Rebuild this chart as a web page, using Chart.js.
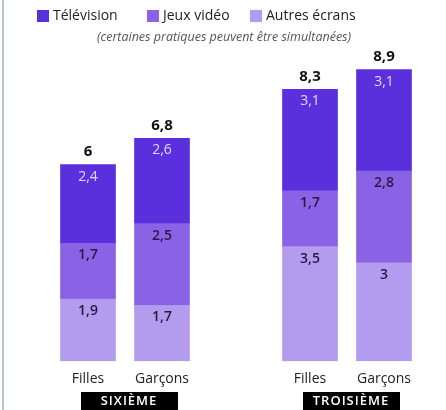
<!DOCTYPE html>
<html>
<head>
<meta charset="utf-8">
<script src="https://cdn.jsdelivr.net/npm/chart.js@4"></script>
<style>
  html, body { margin: 0; padding: 0; background: #fff; }
  #wrap { width: 446px; height: 410px; position: relative; }
</style>
</head>
<body>
<div id="wrap"><canvas id="chart" width="446" height="410"></canvas></div>
<script>
// categories (empty slot between the two school years)
const categories = ['Filles', 'Garçons', '', 'Filles', 'Garçons'];
const television = [2.4, 2.6, null, 3.1, 3.1];
const jeuxVideo = [1.7, 2.5, null, 1.7, 2.8];
const autresEcrans = [1.9, 1.7, null, 3.5, 3];
const totals = ['6', '6,8', '', '8,3', '8,9'];
const groupLabels = ['SIXIÈME', 'TROISIÈME'];
const legendLabels = ['Télévision', 'Jeux vidéo', 'Autres écrans'];
const subtitle = '(certaines pratiques peuvent être simultanées)';

const colTv = '#5a2fdc';
const colJeux = '#8a62e6';
const colAutres = '#b39cee';
const FONT = '"Open Sans", sans-serif';

function fmt(v) {
    return String(v).replace('.', ',');
}

// draws legend, subtitle, value labels, totals and group boxes
const decorations = {
    id: 'decorations',
    beforeDraw(chart) {
        const ctx = chart.ctx;
        ctx.save();
        ctx.fillStyle = '#bcc6c6';
        ctx.fillRect(2, 0, 2, 410);
        ctx.restore();
    },
    afterDraw(chart) {
        const ctx = chart.ctx;
        ctx.save();

        // legend
        const legendX = [37, 147, 250];
        const legendCols = [colTv, colJeux, colAutres];
        ctx.font = '14px ' + FONT;
        ctx.textBaseline = 'middle';
        ctx.textAlign = 'left';
        legendLabels.forEach((lab, i) => {
            ctx.fillStyle = legendCols[i];
            ctx.fillRect(legendX[i], 10, 12, 12);
            ctx.fillStyle = '#222';
            ctx.fillText(lab, legendX[i] + 16, 16);
        });

        // subtitle
        ctx.font = 'italic 12.5px ' + FONT;
        ctx.fillStyle = '#555';
        ctx.textAlign = 'center';
        ctx.fillText(subtitle, 224, 37);

        // segment values
        chart.data.datasets.forEach((ds, di) => {
            const meta = chart.getDatasetMeta(di);
            meta.data.forEach((el, i) => {
                const v = ds.data[i];
                if (v == null) return;
                if (di === 2) {
                    ctx.font = '14px ' + FONT;
                    ctx.fillStyle = '#e2d6ff';
                } else {
                    ctx.font = '600 14px ' + FONT;
                    ctx.fillStyle = '#2a1840';
                }
                ctx.fillText(fmt(v), el.x, el.y + 12);
            });
        });

        // totals
        const topMeta = chart.getDatasetMeta(2);
        ctx.font = 'bold 15px ' + FONT;
        ctx.fillStyle = '#111';
        topMeta.data.forEach((el, i) => {
            if (!totals[i]) return;
            ctx.fillText(totals[i], el.x, el.y - 13);
        });

        // group boxes
        const x = chart.scales.x;
        const groups = [[0, 1], [3, 4]];
        groups.forEach((g, i) => {
            const cx = (x.getPixelForValue(g[0]) + x.getPixelForValue(g[1])) / 2 + 4;
            ctx.fillStyle = '#000';
            ctx.fillRect(cx - 48, 392, 97, 18);
            ctx.fillStyle = '#fff';
            ctx.font = '600 13px ' + FONT;
            ctx.letterSpacing = '1px';
            ctx.fillText(groupLabels[i], cx, 401);
            ctx.letterSpacing = '0px';
        });

        ctx.restore();
    }
};

new Chart(document.getElementById('chart'), {
    type: 'bar',
    data: {
        labels: categories,
        datasets: [
            { label: legendLabels[2], data: autresEcrans, backgroundColor: colAutres, barThickness: 55 },
            { label: legendLabels[1], data: jeuxVideo, backgroundColor: colJeux, barThickness: 55 },
            { label: legendLabels[0], data: television, backgroundColor: colTv, barThickness: 55 }
        ]
    },
    options: {
        responsive: false,
        animation: false,
        layout: { padding: { top: 50, bottom: 14, left: 51, right: 25 } },
        plugins: {
            legend: { display: false },
            tooltip: { enabled: false }
        },
        scales: {
            x: {
                stacked: true,
                grid: { display: false, drawTicks: false },
                border: { display: false },
                ticks: {
                    padding: 9,
                    color: '#222',
                    font: { family: 'Open Sans', size: 14 }
                }
            },
            y: {
                stacked: true,
                display: false,
                min: 0,
                max: 9.5
            }
        }
    },
    plugins: [decorations]
});
</script>
</body>
</html>
